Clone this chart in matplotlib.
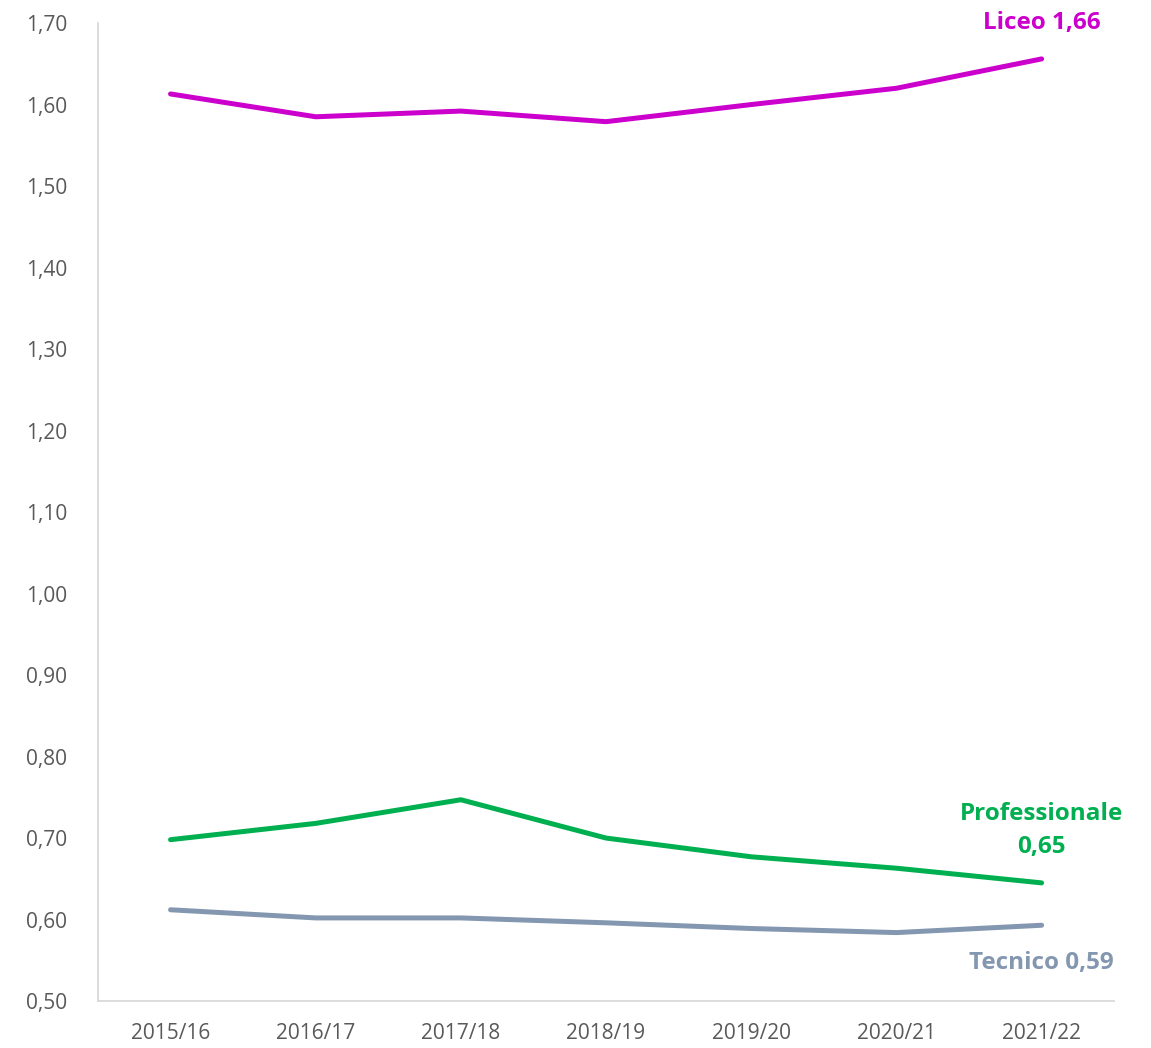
import matplotlib.pyplot as plt
from matplotlib.ticker import FuncFormatter

# --- data ---
years = ['2015/16', '2016/17', '2017/18', '2018/19', '2019/20', '2020/21', '2021/22']
liceo = [1.613, 1.585, 1.592, 1.579, 1.600, 1.620, 1.656]
professionale = [0.698, 0.718, 0.747, 0.700, 0.677, 0.663, 0.645]
tecnico = [0.612, 0.602, 0.602, 0.596, 0.589, 0.584, 0.593]

c_liceo = '#CC00CC'
c_prof = '#00B050'
c_tec = '#8497B0'

plt.rcParams['font.family'] = ['Open Sans', 'DejaVu Sans']

fig = plt.figure(figsize=(11.51, 10.48), dpi=100)
ax = fig.add_axes([0.0851, 0.0448, 0.8829, 0.9332])

x = range(len(years))
ax.plot(x, liceo, color=c_liceo, lw=3.6, solid_capstyle='round')
ax.plot(x, professionale, color=c_prof, lw=3.6, solid_capstyle='round')
ax.plot(x, tecnico, color=c_tec, lw=3.6, solid_capstyle='round')

ax.set_xlim(-0.5, len(years) - 0.5)
ax.set_ylim(0.5, 1.7)
ax.set_yticks([0.5 + 0.1 * i for i in range(13)])
ax.yaxis.set_major_formatter(FuncFormatter(lambda v, p: f'{v:.2f}'.replace('.', ',')))
ax.set_xticks(list(x))
ax.set_xticklabels(years)
ax.tick_params(axis='both', length=0, labelsize=15, colors='#595959')
ax.tick_params(axis='y', pad=22)
ax.tick_params(axis='x', pad=16)

for s in ['top', 'right']:
    ax.spines[s].set_visible(False)
for s in ['left', 'bottom']:
    ax.spines[s].set_color('#D9D9D9')
    ax.spines[s].set_linewidth(1.3)

# end labels
last = len(years) - 1
ax.annotate('Liceo 1,66', xy=(last, liceo[-1]), xytext=(0, 26), textcoords='offset points',
            ha='center', va='center', fontsize=17.5, fontweight='bold', color=c_liceo,
            annotation_clip=False)
ax.annotate('Professionale\n0,65', xy=(last, professionale[-1]), xytext=(0, 38), textcoords='offset points',
            ha='center', va='center', fontsize=17.5, fontweight='bold', color=c_prof,
            linespacing=1.5, annotation_clip=False)
ax.annotate('Tecnico 0,59', xy=(last, tecnico[-1]), xytext=(0, -27), textcoords='offset points',
            ha='center', va='center', fontsize=17.5, fontweight='bold', color=c_tec,
            annotation_clip=False)

fig.savefig('out.png', dpi=100)
